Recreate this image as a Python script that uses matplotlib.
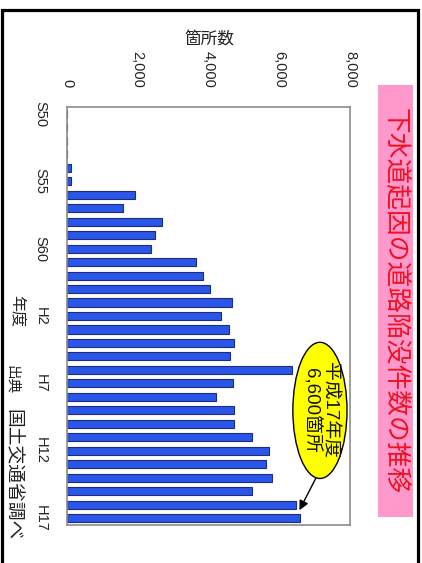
import matplotlib
matplotlib.use("Agg")
import matplotlib.pyplot as plt
from matplotlib.patches import Rectangle, Ellipse

plt.rcParams['font.family'] = ['Liberation Sans', 'Noto Sans CJK JP']

# Fiscal years S50 (1975) .. H17 (2005)
years = ['S50', 'S51', 'S52', 'S53', 'S54', 'S55', 'S56', 'S57', 'S58', 'S59',
         'S60', 'S61', 'S62', 'S63', 'H1', 'H2', 'H3', 'H4', 'H5', 'H6',
         'H7', 'H8', 'H9', 'H10', 'H11', 'H12', 'H13', 'H14', 'H15', 'H16', 'H17']
# Road cave-ins caused by sewer facilities (number of locations)
counts = [0, 0, 0, 0, 110, 110, 1920, 1580, 2690, 2500,
          2380, 3640, 3840, 4050, 4660, 4360, 4580, 4730, 4600, 6350,
          4690, 4210, 4710, 4710, 5230, 5710, 5620, 5790, 5240, 6460, 6600]
shown_years = ['S50', 'S55', 'S60', 'H2', 'H7', 'H12', 'H17']
value_ticks = [0, 2000, 4000, 6000, 8000]

title = '下水道起因の道路陥没件数の推移'
value_label = '箇所数'
year_label = '年度'
source_head = '出典'
source_body = '国土交通省調べ'

W, H = 422, 563
fig = plt.figure(figsize=(W / 100, H / 100), dpi=100)
fig.patch.set_facecolor('white')

def fx(px):
    return px / W

def fy(py):
    return 1 - py / H

ax = fig.add_axes([fx(67), fy(525), fx(350) - fx(67), fy(107) - fy(525)])
pos = list(range(len(years)))
ax.barh(pos, counts, height=0.6, color='#2a56e8', edgecolor='#1c2c80', linewidth=0.8)
ax.set_xlim(value_ticks[0], value_ticks[-1])
ax.set_ylim(len(years) - 0.5, -0.5)

ax.xaxis.tick_top()
ax.set_xticks(value_ticks)
ax.set_xticklabels([f'{v:,}' for v in value_ticks], rotation=-90, fontsize=10.5,
                   color='#222222')
ax.tick_params(axis='x', length=0, pad=14)

ax.set_yticks([years.index(y) for y in shown_years])
ax.set_yticklabels(shown_years, rotation=-90, fontsize=10.5, color='#222222',
                   va='center', ha='center')
ax.tick_params(axis='y', length=0, pad=19)

for s in ax.spines.values():
    s.set_color('#8c8c8c')
    s.set_linewidth(1.2)

# Callout for the latest year
last = counts[-1]
ax.add_patch(Ellipse((7150, 22.0), 1530, 10.1, facecolor='#ffff00',
                     edgecolor='black', linewidth=1.0, clip_on=False, zorder=4))
ax.text(7150, 22.0, f'平成17年度\n{last:,}箇所', rotation=-90, ha='center',
        va='center', multialignment='center', fontsize=13.5, linespacing=1.05,
        color='#111111', zorder=5, family=['Liberation Sans', 'Noto Sans CJK JP'])
ax.annotate('', xy=(last - 30, 29.4), xytext=(7040, 27.0),
            arrowprops=dict(arrowstyle='-|>', color='black', lw=1.0,
                            mutation_scale=14, shrinkA=0, shrinkB=0), zorder=5)

# Title panel
fig.patches.append(Rectangle((fx(378), fy(517)), fx(413) - fx(378), fy(85) - fy(517),
                             transform=fig.transFigure, facecolor='#ff99cc',
                             edgecolor='none', zorder=1))
fig.text(fx(395), fy(301), title, rotation=-90, ha='center', va='center',
         fontsize=18.5, color='#ee1122', zorder=2)

fig.text(fx(209), fy(40), value_label, ha='center', va='center', fontsize=12,
         color='#222222')
fig.text(fx(17), fy(311), year_label, rotation=-90, ha='center', va='center',
         fontsize=11.5, color='#222222')
fig.text(fx(12), fy(380), source_head, rotation=-90, ha='center', va='center',
         fontsize=10.5, color='#222222')
fig.text(fx(12), fy(475), source_body, rotation=-90, ha='center', va='center',
         fontsize=13.5, color='#222222')

# Outer frame
fig.patches.append(Rectangle((fx(1.5), -0.05), fx(418) - fx(1.5), fy(9.5) + 0.05,
                             transform=fig.transFigure, facecolor='none',
                             edgecolor='black', linewidth=2.3, zorder=3))

fig.savefig('out.png', dpi=100)
